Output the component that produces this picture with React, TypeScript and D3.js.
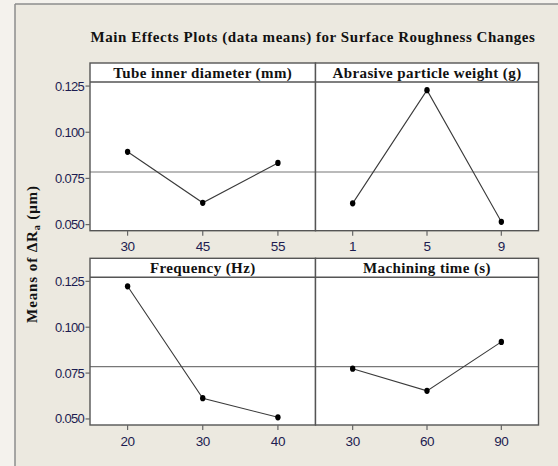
import * as d3 from 'd3'

const panelTitles = [
  'Tube inner diameter (mm)',
  'Abrasive particle weight (g)',
  'Frequency (Hz)',
  'Machining time (s)',
]
const tubeLevels = ['30', '45', '55']
const tubeMeans = [0.0894, 0.0618, 0.0834]
const abrasiveLevels = ['1', '5', '9']
const abrasiveMeans = [0.0615, 0.1228, 0.0515]
const freqLevels = ['20', '30', '40']
const freqMeans = [0.1223, 0.0613, 0.0509]
const timeLevels = ['30', '60', '90']
const timeMeans = [0.0774, 0.0653, 0.092]
const grandMean = 0.0785
const yTickValues = [0.05, 0.075, 0.1, 0.125]

const panels = [
  { title: panelTitles[0], levels: tubeLevels, means: tubeMeans, col: 0, row: 0 },
  { title: panelTitles[1], levels: abrasiveLevels, means: abrasiveMeans, col: 1, row: 0 },
  { title: panelTitles[2], levels: freqLevels, means: freqMeans, col: 0, row: 1 },
  { title: panelTitles[3], levels: timeLevels, means: timeMeans, col: 1, row: 1 },
]

const width = 558
const height = 466
const colEdges = [90, 315.5, 538.5]
const rowTops = [63, 258.3]
const stripH = 19
const rowBottoms = [230.7, 425]
const frameColor = '#555'
const serif = '"Liberation Serif", "Times New Roman", serif'
const sans = '"Liberation Sans", Tahoma, sans-serif'
const tickColor = '#1c1c50'

export default function App() {
  const fmt = d3.format('.3f')
  return (
    <svg
      width={width}
      height={height}
      viewBox={`0 0 ${width} ${height}`}
      style={{ position: 'absolute', left: 0, top: 0 }}
    >
      <rect x={0} y={0} width={width} height={height} fill="#f4f2ed" />
      <rect x={15} y={4} width={width} height={height} fill="#ece9e0" />
      <line x1={15} x2={15} y1={4} y2={height} stroke="#8c8c8c" strokeWidth={1.5} />
      <line x1={15} x2={width} y1={4} y2={4} stroke="#8c8c8c" strokeWidth={1.5} />

      <text
        x={313}
        y={42}
        textAnchor="middle"
        fontFamily={serif}
        fontWeight="bold"
        fontSize="15"
        letterSpacing="0.55"
        fill="#111"
      >
        Main Effects Plots (data means) for Surface Roughness Changes
      </text>

      <text
        transform={`translate(37,254) rotate(-90)`}
        textAnchor="middle"
        fontFamily={serif}
        fontWeight="bold"
        fontSize="15"
        letterSpacing="0.9"
        fill="#111"
      >
        Means of ΔR
        <tspan fontSize="10" dy="3">a</tspan>
        <tspan dy="-3"> (μm)</tspan>
      </text>

      {panels.map((panel) => {
        const x0 = colEdges[panel.col]
        const x1 = colEdges[panel.col + 1]
        const top = rowTops[panel.row]
        const plotTop = top + stripH
        const bottom = rowBottoms[panel.row]
        const x = d3.scalePoint<string>().domain(panel.levels).range([x0, x1]).padding(0.5)
        const y = d3.scaleLinear().domain([0.0467, 0.1272]).range([bottom, plotTop])
        const line = d3
          .line<number>()
          .x((_, i) => x(panel.levels[i]) ?? 0)
          .y((d) => y(d))
        return (
          <g key={panel.title}>
            <rect x={x0} y={plotTop} width={x1 - x0} height={bottom - plotTop} fill="white" />
            <rect x={x0} y={top} width={x1 - x0} height={stripH} fill="white" />
            <line x1={x0} x2={x1} y1={y(grandMean)} y2={y(grandMean)} stroke="#777" strokeWidth={1.1} />
            <path d={line(panel.means) ?? ''} fill="none" stroke="#3a3a3a" strokeWidth={1.1} />
            {panel.means.map((m, i) => (
              <ellipse
                key={i}
                cx={x(panel.levels[i])}
                cy={y(m)}
                rx={2.7}
                ry={3.1}
                fill="#000"
              />
            ))}
            <rect
              x={x0}
              y={top}
              width={x1 - x0}
              height={bottom - top}
              fill="none"
              stroke={frameColor}
              strokeWidth={1.4}
            />
            <line x1={x0} x2={x1} y1={plotTop} y2={plotTop} stroke={frameColor} strokeWidth={1.4} />
            <text
              x={(x0 + x1) / 2}
              y={top + 15}
              textAnchor="middle"
              fontFamily={serif}
              fontWeight="bold"
              fontSize="15"
              letterSpacing="0.4"
              fill="#111"
            >
              {panel.title}
            </text>
            {panel.levels.map((lv) => (
              <g key={lv} transform={`translate(${x(lv)},${bottom})`}>
                <line y1={0} y2={5} stroke="#666" strokeWidth={1.2} />
                <text
                  y={20.5}
                  textAnchor="middle"
                  fontFamily={sans}
                  fontSize="13.5"
                  letterSpacing="-0.4"
                  fill={tickColor}
                >
                  {lv}
                </text>
              </g>
            ))}
            {panel.col === 0 &&
              yTickValues.map((t) => (
                <g key={t} transform={`translate(${x0},${y(t)})`}>
                  <line x1={-4.5} x2={0} stroke="#666" strokeWidth={1.2} />
                  <text
                    x={-6}
                    y={4.5}
                    textAnchor="end"
                    fontFamily={sans}
                    fontSize="13"
                    letterSpacing="-0.7"
                    fill={tickColor}
                  >
                    {fmt(t)}
                  </text>
                </g>
              ))}
          </g>
        )
      })}
    </svg>
  )
}
